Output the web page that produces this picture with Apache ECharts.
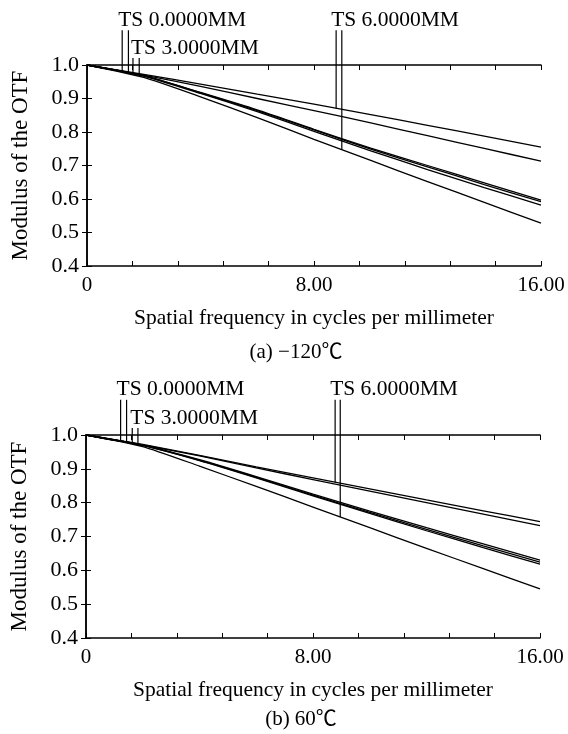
<!DOCTYPE html>
<html>
<head>
<meta charset="utf-8">
<script src="https://cdn.jsdelivr.net/npm/echarts@6/dist/echarts.min.js"></script>
<style>
  html, body { margin: 0; padding: 0; background: #fff; }
  #chart { width: 568px; height: 734px; }
</style>
</head>
<body>
<div id="chart"></div>
<script>
// spatial frequency (cycles/mm) sample points
const freq = [0, 2, 4, 6, 8, 10, 12, 14, 16];

// (a) -120 C : modulus of the OTF, six T/S curves
const a1 = [1.000, 0.972, 0.943, 0.913, 0.883, 0.852, 0.820, 0.788, 0.755];
const a2 = [1.000, 0.970, 0.936, 0.900, 0.864, 0.827, 0.789, 0.751, 0.713];
const a3 = [1.000, 0.968, 0.918, 0.866, 0.808, 0.752, 0.700, 0.648, 0.597];
const a4 = [1.000, 0.968, 0.917, 0.864, 0.806, 0.749, 0.696, 0.643, 0.592];
const a5 = [1.000, 0.967, 0.915, 0.861, 0.802, 0.744, 0.688, 0.634, 0.582];
const a6 = [1.000, 0.963, 0.905, 0.843, 0.778, 0.715, 0.652, 0.590, 0.528];

// (b) 60 C
const b1 = [1.000, 0.972, 0.940, 0.906, 0.873, 0.841, 0.808, 0.776, 0.744];
const b2 = [1.000, 0.971, 0.938, 0.903, 0.868, 0.834, 0.800, 0.766, 0.732];
const b3 = [1.000, 0.970, 0.927, 0.877, 0.825, 0.775, 0.726, 0.678, 0.630];
const b4 = [1.000, 0.969, 0.925, 0.875, 0.822, 0.771, 0.721, 0.672, 0.624];
const b5 = [1.000, 0.969, 0.924, 0.873, 0.820, 0.768, 0.717, 0.667, 0.618];
const b6 = [1.000, 0.966, 0.908, 0.848, 0.787, 0.726, 0.665, 0.605, 0.545];

// legend markers: field name, x of the two pointer lines, curves they point at
const fieldNames = ['TS 0.0000MM', 'TS 3.0000MM', 'TS 6.0000MM'];
const markerXA = [[1.24, 1.46], [1.62, 1.84], [8.78, 8.98]];
const markerXB = [[1.22, 1.43], [1.63, 1.83], [8.78, 8.96]];
const markerCurvesA = [[a3, a4], [a2, a5], [a1, a6]];
const markerCurvesB = [[b3, b4], [b2, b5], [b1, b6]];

const yTicks = [0.4, 0.5, 0.6, 0.7, 0.8, 0.9, 1.0];
const captions = ['(a) \u2212120\u2103', '(b) 60\u2103'];

const FONT = '"Liberation Serif", "Times New Roman", serif';
const CAPTION_FONT = '"Liberation Serif", "Noto Sans CJK SC", serif';
const markerTop = [1.104, 1.021, 1.104]; // how far each pointer rises above the plot

const chart = echarts.init(document.getElementById('chart'), null, { renderer: 'canvas' });

function interp(ys, x) {
  for (let i = 1; i < freq.length; i++) {
    if (x <= freq[i]) {
      const t = (x - freq[i - 1]) / (freq[i] - freq[i - 1]);
      return ys[i - 1] + t * (ys[i] - ys[i - 1]);
    }
  }
  return ys[ys.length - 1];
}

const grids = [
  { left: 87, top: 65, width: 454, height: 201 },
  { left: 86, top: 435, width: 454, height: 203 }
];

const xAxes = [];
const yAxes = [];
grids.forEach((g, gi) => {
  const base = {
    gridIndex: gi, type: 'value', min: 0, max: 16, interval: 1.6,
    axisLine: { show: true, lineStyle: { color: '#000', width: 1.5 } },
    axisTick: { show: true, inside: true, length: 5, lineStyle: { color: '#000', width: 1 } },
    splitLine: { show: false }
  };
  xAxes.push(Object.assign({}, base, {
    position: 'bottom',
    name: 'Spatial frequency in cycles per millimeter',
    nameLocation: 'middle', nameGap: 41,
    nameTextStyle: { fontFamily: FONT, fontSize: 21.5, color: '#000' },
    axisLabel: {
      show: true, margin: 9, fontFamily: FONT, fontSize: 21, color: '#000',
      showMinLabel: true, showMaxLabel: true,
      formatter: v => v === 0 ? '0' : (Math.abs(v - 8) < 1e-6 || Math.abs(v - 16) < 1e-6 ? v.toFixed(2) : '')
    }
  }));
  xAxes.push(Object.assign({}, base, { position: 'top', axisLabel: { show: false } }));
  const ybase = {
    gridIndex: gi, type: 'value', min: 0.4, max: 1.0, interval: 0.1,
    axisLine: { show: true, lineStyle: { color: '#000', width: 1.5 } },
    axisTick: { show: true, inside: true, length: 5, lineStyle: { color: '#000', width: 1 } },
    splitLine: { show: false }
  };
  yAxes.push(Object.assign({}, ybase, {
    position: 'left',
    name: 'Modulus of the OTF',
    nameLocation: 'middle', nameGap: 55, nameRotate: 90,
    nameTextStyle: { fontFamily: FONT, fontSize: 23, color: '#000' },
    axisLabel: {
      show: true, margin: 8, fontFamily: FONT, fontSize: 22, color: '#000',
      formatter: v => yTicks.some(t => Math.abs(t - v) < 1e-6) ? v.toFixed(1) : ''
    }
  }));
  yAxes.push(Object.assign({}, ybase, { position: 'right', axisLabel: { show: false } }));
});

const series = [];
function addCurves(curves, gi) {
  curves.forEach(ys => {
    series.push({
      type: 'line', xAxisIndex: gi * 2, yAxisIndex: gi * 2,
      data: freq.map((x, i) => [x, ys[i]]),
      showSymbol: false, symbol: 'none', smooth: 0.2,
      lineStyle: { color: '#000', width: 1.3 },
      silent: true, z: 3
    });
  });
}
addCurves([a1, a2, a3, a4, a5, a6], 0);
addCurves([b1, b2, b3, b4, b5, b6], 1);

function addMarkers(markerX, markerCurves, gi) {
  markerX.forEach((pair, fi) => {
    pair.forEach((x, k) => {
      series.push({
        type: 'line', xAxisIndex: gi * 2, yAxisIndex: gi * 2,
        data: [[x, interp(markerCurves[fi][k], x)], [x, markerTop[fi]]],
        showSymbol: false, symbol: 'none', clip: false,
        lineStyle: { color: '#000', width: 1.2 },
        silent: true, z: 4
      });
    });
  });
}
addMarkers(markerXA, markerCurvesA, 0);
addMarkers(markerXB, markerCurvesB, 1);

chart.setOption({
  backgroundColor: '#fff',
  animation: false,
  grid: grids,
  xAxis: xAxes,
  yAxis: yAxes,
  series: series
});

// texts: field labels above the pointer lines and the sub-figure captions
const graphics = [];
const labelShift = [-4, -2, -5];
[[markerXA, 0], [markerXB, 1]].forEach(([markerX, gi]) => {
  markerX.forEach((pair, fi) => {
    const p = chart.convertToPixel({ xAxisIndex: gi * 2, yAxisIndex: gi * 2 }, [pair[0], markerTop[fi]]);
    graphics.push({
      type: 'text', x: p[0] + labelShift[fi], y: p[1] + 1,
      style: { text: fieldNames[fi], font: '21.5px ' + FONT, fill: '#000', textAlign: 'left', textVerticalAlign: 'bottom' }
    });
  });
});
graphics.push({ type: 'text', x: 296, y: 352, style: { text: captions[0], font: '21px ' + CAPTION_FONT, fill: '#000', textAlign: 'center', textVerticalAlign: 'middle' } });
graphics.push({ type: 'text', x: 301, y: 719, style: { text: captions[1], font: '21px ' + CAPTION_FONT, fill: '#000', textAlign: 'center', textVerticalAlign: 'middle' } });
chart.setOption({ graphic: graphics });
</script>
</body>
</html>
